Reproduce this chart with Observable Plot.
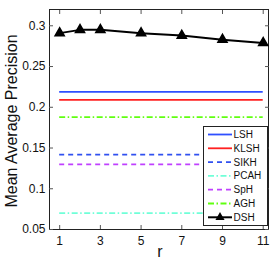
<!DOCTYPE html>
<html>
<head>
<meta charset="utf-8">
<script src="https://cdn.jsdelivr.net/npm/d3@7"></script>
<script src="https://cdn.jsdelivr.net/npm/@observablehq/plot@0.6"></script>
<style>
body { margin: 0; background: #fff; }
svg { display: block; }
</style>
</head>
<body>
<div id="chart"></div>
<script>
// Data
const rValues = [1, 2, 3, 5, 7, 9, 11];
const dshValues = [0.291, 0.295, 0.295, 0.291, 0.288, 0.283, 0.279];
const baselineNames = ["LSH", "KLSH", "SIKH", "PCAH", "SpH", "AGH"];
const baselineValues = [0.219, 0.209, 0.142, 0.070, 0.130, 0.188];
const baselineColors = ["#2f4fff", "#ff2020", "#3050f0", "#70ffd8", "#c040ff", "#60ff10"];
const baselineDash = [null, null, "5,4", "6,2.5,1.5,2.5", "5,4", "6,2.5,1.5,2.5"];
const xTicks = [1, 3, 5, 7, 9, 11];
const yTicks = [0.05, 0.1, 0.15, 0.2, 0.25, 0.3];
const yTickLabels = ["0.05", "0.1", "0.15", "0.2", "0.25", "0.3"];
const rMin = 1, rMax = 11;

const dsh = rValues.map((r, i) => ({r, v: dshValues[i]}));
const baselines = baselineNames.map((name, i) => ({name, v: baselineValues[i], color: baselineColors[i], dash: baselineDash[i]}));

const font = "Liberation Sans, Arial, Helvetica, sans-serif";

const marks = [
  Plot.frame({stroke: "#222", strokeWidth: 1}),
  // inward ticks
  Plot.axisX(xTicks, {anchor: "bottom", tickSize: -4, tickFormat: () => "", stroke: "#555"}),
  Plot.axisX(xTicks, {anchor: "top", tickSize: -4, tickFormat: () => "", stroke: "#555"}),
  Plot.axisY(yTicks, {anchor: "left", tickSize: -4, tickFormat: () => "", stroke: "#555"}),
  Plot.axisY(yTicks, {anchor: "right", tickSize: -4, tickFormat: () => "", stroke: "#555"}),
  // labels
  Plot.axisX(xTicks, {anchor: "bottom", tickSize: 0, tickPadding: 7, fontSize: 12, fill: "#111", label: null}),
  Plot.axisY(yTicks, {anchor: "left", tickSize: 0, tickPadding: 4, fontSize: 12, fill: "#111",
    tickFormat: (d) => yTickLabels[yTicks.indexOf(d)], label: null}),
];
baselines.forEach(b => {
  marks.push(Plot.ruleY([b], {y: "v", x1: rMin, x2: rMax, stroke: b.color, strokeWidth: 1.8,
    strokeDasharray: b.dash || undefined}));
});
marks.push(Plot.line(dsh, {x: "r", y: "v", stroke: "#000", strokeWidth: 2}));
marks.push(Plot.dot(dsh, {x: "r", y: "v", symbol: "triangle", r: 3.4, fill: "#000", stroke: "#000"}));

const plot = Plot.plot({
  width: 278,
  height: 264,
  marginLeft: 49,
  marginRight: 10,
  marginTop: 9,
  marginBottom: 35,
  style: {fontFamily: font, background: "#fff", color: "#111"},
  x: {domain: [0.5, 11.26], label: null},
  y: {domain: [0.05, 0.32], label: null},
  marks
});

// Axis titles and legend
const svg = d3.select(plot);
svg.append("text").attr("x", 160).attr("y", 257).attr("text-anchor", "middle")
  .attr("font-size", 16).attr("font-family", font).attr("fill", "#111").text("r");
svg.append("text").attr("transform", "translate(17,121) rotate(-90)").attr("text-anchor", "middle")
  .attr("font-size", 16).attr("font-family", font).attr("fill", "#111").text("Mean Average Precision");

const legendItems = baselines.map(b => ({name: b.name, color: b.color, dash: b.dash, marker: false}))
  .concat([{name: "DSH", color: "#000", dash: null, marker: true}]);
const lg = svg.append("g");
lg.append("rect").attr("x", 203.5).attr("y", 126.5).attr("width", 64).attr("height", 99)
  .attr("fill", "#fff").attr("stroke", "#222").attr("stroke-width", 1);
legendItems.forEach((it, i) => {
  const y = 134.5 + i * 13.8;
  lg.append("line").attr("x1", 208).attr("x2", 232).attr("y1", y).attr("y2", y)
    .attr("stroke", it.color).attr("stroke-width", it.marker ? 2 : 1.8)
    .attr("stroke-dasharray", it.dash || null);
  if (it.marker) {
    lg.append("path").attr("d", d3.symbol(d3.symbolTriangle, 36)()).attr("transform", `translate(220,${y})`)
      .attr("fill", "#000");
  }
  lg.append("text").attr("x", 233.5).attr("y", y).attr("dy", "0.35em").attr("text-anchor", "start")
    .attr("font-size", 10).attr("font-family", font).attr("fill", "#111").text(it.name);
});

document.getElementById("chart").appendChild(plot);
</script>
</body>
</html>
